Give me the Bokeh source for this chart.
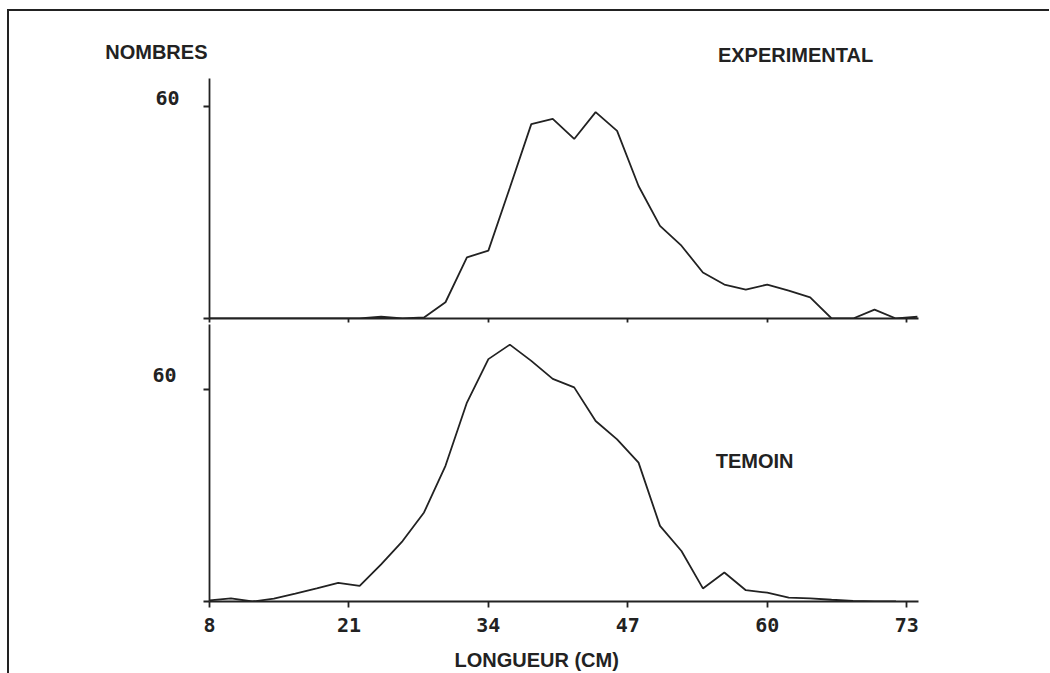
from bokeh.plotting import figure
from bokeh.models import Range1d, FixedTicker, Label
from bokeh.layouts import column
from bokeh.embed import file_html
from bokeh.resources import INLINE

# ---- data ----
longueur = [8, 10, 12, 14, 16, 18, 20, 22, 24, 26, 28, 30, 32, 34, 36, 38, 40,
            42, 44, 46, 48, 50, 52, 54, 56, 58, 60, 62, 64, 66, 68, 70, 72, 74]
experimental = [0, 0, 0, 0, 0, 0, 0, 0, 0.5, 0, 0.3, 4.6, 17.3, 19.2, 37, 55, 56.5,
                50.8, 58.4, 53.1, 37.5, 26.2, 20.6, 13, 9.6, 8.2, 9.6, 7.9, 6, 0, 0, 2.5, 0, 0.5]
longueur_t = [8, 10, 12, 14, 16, 18, 20, 22, 24, 26, 28, 30, 32, 34, 36, 38, 40,
              42, 44, 46, 48, 50, 52, 54, 56, 58, 60, 62, 64, 66, 68, 70, 72]
temoin = [0.3, 0.9, 0, 0.8, 2.2, 3.7, 5.3, 4.4, 10.5, 17.1, 25.2, 38.4, 56.3, 68.6, 72.7,
          68.1, 63, 60.6, 51.1, 45.9, 39.3, 21.4, 14.3, 3.7, 8.2, 3.2, 2.5, 1.1, 0.9, 0.5, 0.2, 0, 0]
x_ticks = [8, 21, 34, 47, 60, 73]
y_ticks = [0, 60]
y_tick_label = "60"

INK = "#222222"
LBL_FONT = "Liberation Sans"
NUM_FONT = "DejaVu Sans Mono"

xr = Range1d(8, 74.1)


def clean(p):
    p.outline_line_color = None
    p.xgrid.visible = False
    p.ygrid.visible = False
    p.background_fill_color = "white"
    p.border_fill_color = "white"


def style(p, label_pos, standoff):
    clean(p)
    for ax in (p.xaxis[0], p.yaxis[0]):
        ax.axis_line_color = INK
        ax.axis_line_width = 1.8
        ax.major_tick_line_color = INK
        ax.major_tick_line_width = 1.8
        ax.minor_tick_line_color = INK
        ax.minor_tick_line_width = 1.8
        ax.major_tick_in = 0
        ax.minor_tick_in = 0
    yax = p.yaxis[0]
    # tick marks at 0 and 60; the "60" label sits a little above its tick, as in the original
    yax.ticker = FixedTicker(ticks=[label_pos], minor_ticks=y_ticks)
    yax.major_label_overrides = {label_pos: y_tick_label}
    yax.major_tick_out = 0
    yax.major_tick_line_color = None
    yax.minor_tick_out = 6
    yax.major_label_standoff = standoff
    yax.major_label_text_font = NUM_FONT
    yax.major_label_text_font_style = "bold"
    yax.major_label_text_font_size = "20px"
    yax.major_label_text_color = INK


def text_label(x, y, txt, align="left"):
    return Label(x=x, y=y, text=txt, text_font=LBL_FONT, text_font_style="bold",
                 text_font_size="20px", text_color=INK, text_baseline="middle", text_align=align)


# header strip: "NOMBRES" (left label of the strip) and "EXPERIMENTAL"
head = figure(width=1040, height=67, x_range=xr, y_range=Range1d(0, 67),
              output_backend="svg", toolbar_location=None, title=None,
              x_axis_location=None,
              min_border_left=200, min_border_right=131, min_border_top=0, min_border_bottom=0)
clean(head)
hy = head.yaxis[0]
hy.ticker = FixedTicker(ticks=[27])
hy.major_label_overrides = {27: "NOMBRES"}
hy.axis_line_color = None
hy.major_tick_line_color = None
hy.minor_tick_line_color = None
hy.major_tick_in = 0
hy.major_tick_out = 0
hy.major_label_standoff = 2
hy.major_label_text_font = LBL_FONT
hy.major_label_text_font_style = "bold"
hy.major_label_text_font_size = "20px"
hy.major_label_text_color = INK
head.add_layout(text_label(55.4, 23.5, "EXPERIMENTAL"))

# upper panel: EXPERIMENTAL
top = figure(width=1040, height=246, x_range=xr, y_range=Range1d(0, 67.9),
             output_backend="svg", toolbar_location=None, title=None,
             min_border_left=200, min_border_right=131, min_border_top=0, min_border_bottom=6)
style(top, 62.4, 24)
top.xaxis[0].ticker = FixedTicker(ticks=[], minor_ticks=x_ticks)
top.xaxis[0].minor_tick_out = 4
top.line(longueur, experimental, line_color=INK, line_width=1.8)

# lower panel: TEMOIN
bot = figure(width=1040, height=317, x_range=xr, y_range=Range1d(0, 78.4),
             output_backend="svg", toolbar_location=None, title=None,
             min_border_left=200, min_border_right=131, min_border_top=0, min_border_bottom=40)
style(bot, 64.0, 27)
xa = bot.xaxis[0]
xa.ticker = FixedTicker(ticks=x_ticks)
xa.major_tick_out = 6
xa.major_tick_line_color = INK
xa.major_label_standoff = 10
xa.major_label_text_font = NUM_FONT
xa.major_label_text_font_style = "bold"
xa.major_label_text_font_size = "20px"
xa.major_label_text_color = INK
bot.line(longueur_t, temoin, line_color=INK, line_width=1.8)
bot.add_layout(text_label(55.2, 39.8, "TEMOIN"))

# footer strip: x axis title
foot = figure(width=1040, height=32, x_range=xr, y_range=Range1d(0, 32),
              output_backend="svg", toolbar_location=None, title=None,
              x_axis_location=None, y_axis_location=None,
              min_border_left=200, min_border_right=131, min_border_top=0, min_border_bottom=0)
clean(foot)
foot.add_layout(text_label(38.5, 14, "LONGUEUR (CM)", align="center"))

layout = column(head, top, bot, foot, margin=(9, 0, 0, 7),
                styles={"border-top": "2px solid #222222", "border-left": "2px solid #222222"})

open("out.html", "w").write(file_html(layout, INLINE))
